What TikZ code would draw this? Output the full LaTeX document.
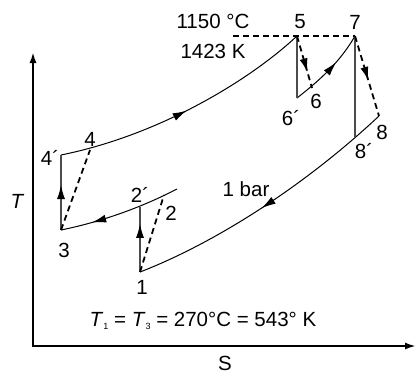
\documentclass[tikz,border=0pt]{standalone}
\usepackage{fontspec}
\setmainfont{Liberation Sans}
\usetikzlibrary{arrows.meta,decorations.markings}
\begin{document}
\begin{tikzpicture}[x=1pt,y=-1pt,
  lbl/.style={inner sep=0pt, font=\fontsize{20.5}{24}\selectfont},
  curve/.style={line width=1pt},
  vline/.style={line width=1.2pt, draw=black!70},
  dline/.style={line width=1.8pt, dash pattern=on 6pt off 4pt},
  midarrow/.style={postaction={decorate}, decoration={markings,
     mark=at position #1 with {\arrow[black]{Latex[length=14pt,width=8pt]}}}},
]
\useasboundingbox (0,0) rectangle (417,373);
% axes
\coordinate (Ytop) at (33,52);
\coordinate (O) at (33,346);
\coordinate (Xend) at (416,346);
\draw[line width=2pt, {Latex[length=11pt,width=7pt]}-{Latex[length=11pt,width=7pt]}] (Ytop) -- (O) -- (Xend);
% state points
\coordinate (p1) at (140,272);
\coordinate (p2d) at (140,207);
\coordinate (p2) at (164,195);
\coordinate (p3) at (61,230);
\coordinate (p4d) at (61,155);
\coordinate (p4) at (90,150);
\coordinate (p5) at (297,36);
\coordinate (p6d) at (297,98);
\coordinate (p6) at (312,88);
\coordinate (p7) at (355,36);
\coordinate (p8d) at (355,137);
\coordinate (p8) at (379,116);
\coordinate (cend) at (177,189);
\coordinate (hstart) at (233,36);
% constant pressure curves
\draw[curve, midarrow=0.5] (p4d) .. controls (160,135) and (250,80) .. (p5);
\draw[curve, midarrow=0.62] (p6d) .. controls (320,80) and (340,62) .. (p7);
\draw[curve, midarrow=0.52] (p8) .. controls (300,190) and (210,245) .. (p1);
\draw[curve, midarrow=0.74] (cend) .. controls (150,203) and (110,220) .. (p3);
% vertical (isentropic) lines
\draw[vline, midarrow=0.6] (p3) -- (p4d);
\draw[vline, midarrow=0.74] (p1) -- (p2d);
\draw[vline] (p5) -- (p6d);
\draw[vline] (p7) -- (p8d);
% dashed lines
\draw[dline] (hstart) -- (p5) -- (p7);
\draw[dline] (p3) -- (p4);
\draw[dline] (p1) -- (p2);
\draw[dline, midarrow=0.7] (p5) -- (p6);
\draw[dline, midarrow=0.56] (p7) -- (p8);
% labels
\node[lbl] (tC) at (213,21) {1150 °C};
\node[lbl] (tK) at (213,51) {1423 K};
\node[lbl] (l5) at (300,22) {5};
\node[lbl] (l7) at (355,22) {7};
\node[lbl] (l6) at (316,101) {6};
\node[lbl] (l6d) at (291,118) {6´};
\node[lbl] (l8) at (382,132) {8};
\node[lbl] (l8d) at (364,151) {8´};
\node[lbl] (lbar) at (246,189) {1 bar};
\node[lbl] (l4) at (90,139) {4};
\node[lbl] (l4d) at (50,158) {4´};
\node[lbl] (l2d) at (140,195) {2´};
\node[lbl] (l2) at (171,213) {2};
\node[lbl] (l3) at (64,250) {3};
\node[lbl] (l1) at (142,287) {1};
\node[lbl] (lT) at (17,201) {\itshape T};
\node[lbl] (lS) at (225,363) {S};
\node[lbl, anchor=base] (lTT) at (203,326) {\itshape T\/\upshape\raisebox{-0.35ex}{\fontsize{9}{10}\selectfont 1} = \itshape T\/\upshape\raisebox{-0.35ex}{\fontsize{9}{10}\selectfont 3} = 270°C = 543° K};
\end{tikzpicture}
\end{document}
